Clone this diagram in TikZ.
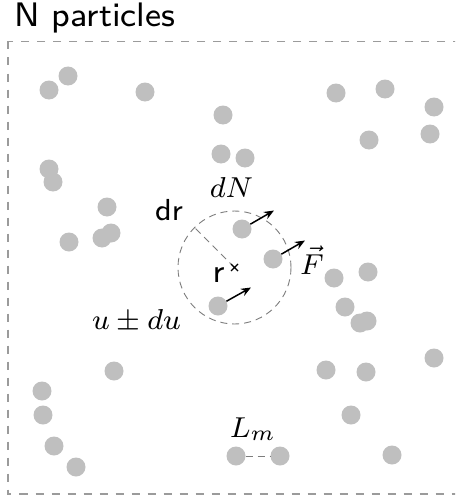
\documentclass[tikz,border=0pt]{standalone}
\usepackage{graphicx}
\usetikzlibrary{calc,arrows.meta}
\definecolor{pgray}{RGB}{191,191,191}
\definecolor{dgray}{RGB}{155,155,155}
\definecolor{cgray}{RGB}{125,125,125}
\newcommand{\sfl}[2]{\scalebox{#1}{\fontsize{8}{10}\selectfont\sffamily #2}}
\newcommand{\mtl}[2]{\scalebox{#1}{\fontsize{8}{10}\selectfont #2}}
\begin{document}
\begin{tikzpicture}[x=1pt,y=-1pt,
  particle/.style={circle, fill=pgray, inner sep=0pt, minimum size=19pt},
  boxline/.style={draw=dgray, line width=1.5pt, dash pattern=on 8pt off 8pt},
  thindash/.style={draw=cgray, line width=0.9pt, dash pattern=on 7pt off 5pt},
  force/.style={-{Stealth[length=10pt,width=8pt]}, line width=1.5pt},
  lbl/.style={inner sep=0pt, anchor=base},
]
\useasboundingbox (0,0) rectangle (455,495);
\clip (0,0) rectangle (455,495);
\draw[boxline] (8,41.5) rectangle (470,494);

\node[lbl, anchor=base west] (title) at (14,27) {\sfl{4.25}{N particles}};

% particles
\foreach \n/\x/\y in {1/49/90, 2/68/76, 3/145/92, 4/223/115, 5/221/154, 6/245/158,
  7/336/93, 8/385/89, 9/434/107, 10/369/140, 11/430/134, 12/49/169, 13/53/182,
  14/107/207, 15/69/242, 16/102/238, 17/111/233, 18/242/229, 19/273/259, 20/218/306,
  21/334/278, 22/368/272, 23/345/307, 24/360/323, 25/367/321, 26/434/358, 27/326/370,
  28/366/372, 29/114/371, 30/42/391, 31/43/415, 32/54/446, 33/76/467, 34/351/415,
  35/392/455, 36/236/456, 37/280/456}
  \node[particle] (p\n) at (\x,\y) {};

% sphere of radius r
\coordinate (ctr) at (234.5,267.5);
\coordinate (rim) at ($(ctr)+(-40,-40)$);
\draw[thindash] (ctr) circle (56.5);
\draw[thindash] (ctr) -- (rim);
\draw[line width=1.3pt] ($(ctr)+(-3.5,-3.5)$) -- ($(ctr)+(3.5,3.5)$)
  ($(ctr)+(-3.5,3.5)$) -- ($(ctr)+(3.5,-3.5)$);

% forces
\coordinate (f18) at ($(p18.center)+(32,-18.5)$);
\coordinate (f19) at ($(p19.center)+(32,-18.5)$);
\coordinate (f20) at ($(p20.center)+(33,-18.5)$);
\draw[force] (p18) -- (f18);
\draw[force] (p19) -- (f19);
\draw[force] (p20) -- (f20);

% mean free path
\draw[thindash] (p36) -- (p37);

% labels
\node[lbl, anchor=base west] (drl) at (155,220) {\sfl{3.8}{dr}};
\node[lbl] (rl) at (218.5,282) {\sfl{4.1}{r}};
\node[lbl] (dN) at (231.5,197) {\mtl{3.6}{$dN$}};
\node[lbl] (F) at (312,274) {\mtl{3.6}{$\vec{F}$}};
\node[lbl] (udu) at (136.5,329) {\mtl{3.6}{$u\pm du$}};
\node[lbl] (Lm) at (253,437) {\mtl{3.6}{$L_m$}};
\end{tikzpicture}
\end{document}
